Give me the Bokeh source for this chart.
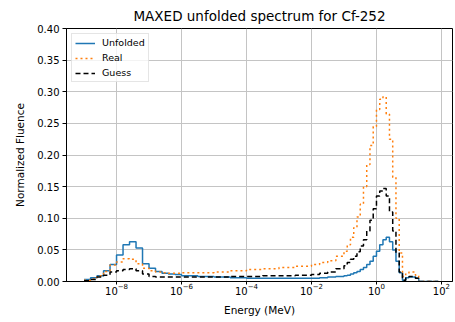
from bokeh.plotting import figure
from bokeh.models import Range1d, FixedTicker, NumeralTickFormatter, Legend, LegendItem
from bokeh.embed import file_html
from bokeh.resources import INLINE

# Bin edges as log10(E / MeV)
log_edges = [-9.0, -8.8, -8.6, -8.4, -8.2, -8.0, -7.8, -7.6, -7.4, -7.2, -7.0,
             -6.8, -6.6, -6.4, -6.2, -6.0,
             -5.5, -5.0, -4.5, -4.0, -3.5, -3.0, -2.5, -2.0, -1.75, -1.5, -1.25, -1.0,
             -0.9, -0.8, -0.7, -0.6, -0.5, -0.4, -0.3, -0.2, -0.1, 0.0,
             0.1, 0.2, 0.3, 0.4, 0.5, 0.6, 0.7, 0.8, 0.9, 1.0, 1.1, 1.2, 1.3, 1.9]

unfolded = [0.003, 0.006, 0.009, 0.017, 0.027, 0.042, 0.058, 0.063, 0.053, 0.028,
            0.021, 0.016, 0.013, 0.012, 0.011,
            0.009, 0.008, 0.007, 0.006, 0.005, 0.005, 0.005, 0.005, 0.005, 0.006, 0.007, 0.008,
            0.009, 0.010, 0.012, 0.014, 0.016, 0.019, 0.022, 0.027, 0.032, 0.040,
            0.048, 0.058, 0.066, 0.070, 0.063, 0.050, 0.032, 0.014, 0.002, 0.006,
            0.007, 0.007, 0.005, 0.0]

real = [0.002, 0.004, 0.009, 0.016, 0.026, 0.031, 0.036, 0.035, 0.028, 0.021,
        0.017, 0.015, 0.014, 0.013, 0.013,
        0.014, 0.014, 0.015, 0.017, 0.019, 0.020, 0.022, 0.024, 0.027, 0.030, 0.033, 0.040,
        0.048, 0.058, 0.070, 0.085, 0.102, 0.122, 0.150, 0.185, 0.215, 0.245,
        0.272, 0.288, 0.292, 0.265, 0.225, 0.165, 0.100, 0.045, 0.008, 0.012,
        0.015, 0.015, 0.010, 0.0]

guess = [0.001, 0.003, 0.007, 0.010, 0.015, 0.017, 0.019, 0.020, 0.017, 0.012,
         0.008, 0.007, 0.007, 0.007, 0.007,
         0.007, 0.007, 0.007, 0.008, 0.008, 0.009, 0.009, 0.010, 0.011, 0.013, 0.015, 0.020,
         0.025, 0.030, 0.035, 0.040, 0.047, 0.056, 0.066, 0.080, 0.097, 0.115,
         0.135, 0.143, 0.147, 0.135, 0.110, 0.080, 0.045, 0.015, 0.002, 0.007,
         0.008, 0.008, 0.005, 0.0]

x_ticks = [1e-8, 1e-6, 1e-4, 1e-2, 1e0, 1e2]
y_ticks = [0.0, 0.05, 0.10, 0.15, 0.20, 0.25, 0.30, 0.35, 0.40]

energies = [10 ** e for e in log_edges]

p = figure(width=455, height=322, x_axis_type="log", output_backend="svg",
           toolbar_location=None,
           x_range=Range1d(10 ** -9.54, 10 ** 2.34), y_range=Range1d(0, 0.4),
           min_border_left=66, min_border_right=3, min_border_top=25, min_border_bottom=41)

p.title.text = "MAXED unfolded spectrum for Cf-252"
p.title.align = "center"
p.title.text_font = "DejaVu Sans"
p.title.text_font_size = "13.5px"
p.title.text_font_style = "normal"
p.title.text_color = "black"

r1 = p.step(energies, unfolded + [unfolded[-1]], mode="after",
            line_color="#1f77b4", line_width=1.5)
r2 = p.step(energies, real + [real[-1]], mode="after",
            line_color="#ff7f0e", line_width=1.5, line_dash="2 3")
r3 = p.step(energies, guess + [guess[-1]], mode="after",
            line_color="black", line_width=1.5, line_dash="5 3")

for ax in (p.xaxis[0], p.yaxis[0]):
    ax.axis_label_text_font = "DejaVu Sans"
    ax.axis_label_text_font_size = "10.5px"
    ax.axis_label_text_font_style = "normal"
    ax.axis_label_text_color = "black"
    ax.major_label_text_font = "DejaVu Sans"
    ax.major_label_text_font_size = "10px"
    ax.major_label_text_color = "black"
    ax.major_tick_out = 4
    ax.major_tick_in = 0
    ax.minor_tick_out = 0
    ax.minor_tick_in = 0
    ax.axis_line_color = "black"
    ax.major_tick_line_color = "black"

p.xaxis.axis_label = "Energy (MeV)"
p.yaxis.axis_label = "Normalized Fluence"
p.xaxis.ticker = FixedTicker(ticks=x_ticks, minor_ticks=[])
p.yaxis.ticker = FixedTicker(ticks=y_ticks, minor_ticks=[])
p.yaxis.formatter = NumeralTickFormatter(format="0.00")
p.yaxis.major_label_standoff = 3
p.xaxis.major_tick_out = 3
p.xaxis.major_label_standoff = -2
p.yaxis.axis_label_standoff = 8
p.xaxis.axis_label_standoff = 6

p.grid.grid_line_color = "#c4c4c4"
p.grid.grid_line_width = 1
p.outline_line_color = "black"
p.outline_line_width = 1

legend = Legend(items=[LegendItem(label="Unfolded", renderers=[r1]),
                       LegendItem(label="Real", renderers=[r2]),
                       LegendItem(label="Guess", renderers=[r3])],
                location="top_left")
legend.label_text_font = "DejaVu Sans"
legend.label_text_font_size = "9.5px"
legend.label_text_color = "black"
legend.glyph_width = 20
legend.glyph_height = 10
legend.label_height = 10
legend.spacing = 4
legend.padding = 3
legend.margin = 5
legend.label_standoff = 7
legend.border_line_color = "#cccccc"
legend.background_fill_alpha = 0.8
p.add_layout(legend)

open("out.html", "w").write(file_html(p, INLINE))
